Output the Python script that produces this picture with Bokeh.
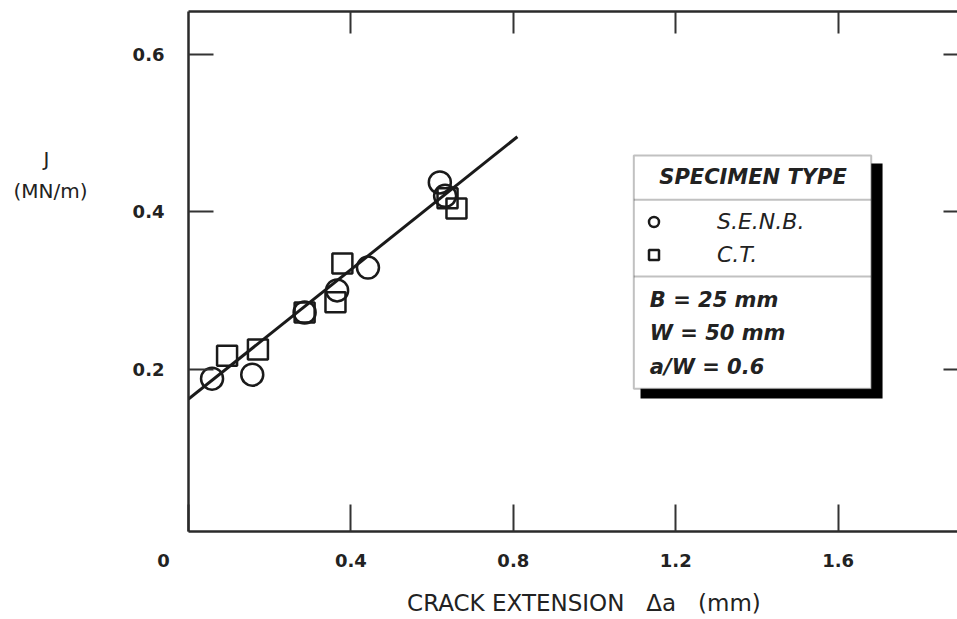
from bokeh.plotting import figure
from bokeh.models import (Range1d, LinearAxis, FixedTicker, Label, BoxAnnotation,
                          Legend, LegendItem)
from bokeh.embed import file_html
from bokeh.resources import INLINE

# ---- data ----
senb_x = [0.058, 0.157, 0.286, 0.366, 0.442, 0.619, 0.632]
senb_y = [0.188, 0.193, 0.272, 0.300, 0.329, 0.437, 0.420]
ct_x = [0.095, 0.171, 0.286, 0.362, 0.379, 0.638, 0.660]
ct_y = [0.217, 0.225, 0.272, 0.285, 0.334, 0.417, 0.404]
fit_x = [0.0, 0.81]
fit_y = [0.162, 0.495]
x_ticks = [0.0, 0.4, 0.8, 1.2, 1.6]
y_ticks = [0.2, 0.4, 0.6]
y_title_pos = [0.4674, 0.4268]

INK = "#1a1a1a"
FONT = "DejaVu Sans"
NB = "\u00a0"

p = figure(width=957, height=619, output_backend="svg", toolbar_location=None,
           x_range=Range1d(0.0, 1.894), y_range=Range1d(-0.006, 0.654),
           min_border_left=188, min_border_right=0, min_border_top=11,
           min_border_bottom=88, x_axis_location=None, y_axis_location=None)
p.grid.visible = False
p.outline_line_color = None
p.background_fill_color = "white"
p.border_fill_color = "white"


def make_axis(ticks, tick_len, labels, standoff=0, line=True):
    ax = LinearAxis(ticker=FixedTicker(ticks=ticks))
    ax.major_tick_in = tick_len
    ax.major_tick_out = 0
    ax.minor_tick_line_color = None
    ax.major_tick_line_width = 2
    ax.major_tick_line_color = "#333"
    ax.axis_line_width = 2.5
    ax.axis_line_color = "#2a2a2a" if line else None
    ax.major_label_standoff = standoff
    if labels:
        ax.major_label_text_font = FONT
        ax.major_label_text_font_size = "18px"
        ax.major_label_text_font_style = "bold"
        ax.major_label_text_color = "#222"
    else:
        ax.major_label_text_font_size = "1px"
        ax.major_label_text_color = None
    return ax


bottom = make_axis(x_ticks, 27, True, 18)
bottom.major_label_overrides = {0.0: "0" + NB * 8}
bottom.axis_label = NB * 3 + "CRACK EXTENSION" + NB * 3 + "\u0394a" + NB * 3 + "(mm)"
bottom.axis_label_text_font = FONT
bottom.axis_label_text_font_size = "23px"
bottom.axis_label_text_font_style = "normal"
bottom.axis_label_text_color = "#222"
bottom.axis_label_standoff = 16
p.add_layout(bottom, "below")
p.add_layout(make_axis(x_ticks[1:], 22, False), "above")
p.add_layout(make_axis(y_ticks, 25, True, 24), "left")
p.add_layout(make_axis(y_ticks, 14, False, line=False), "right")

# the J (MN/m) title, written as labels of a tick-less axis outside the first
ytitle = LinearAxis(ticker=FixedTicker(ticks=y_title_pos))
ytitle.axis_line_color = None
ytitle.major_tick_line_color = None
ytitle.minor_tick_line_color = None
ytitle.major_tick_in = 0
ytitle.major_tick_out = 0
ytitle.major_label_standoff = 42
ytitle.major_label_overrides = {y_title_pos[0]: "J" + NB * 6, y_title_pos[1]: "(MN/m)"}
ytitle.major_label_text_font = FONT
ytitle.major_label_text_font_size = "20px"
ytitle.major_label_text_color = "#222"
p.add_layout(ytitle, "left")

# regression line and data
p.line(fit_x, fit_y, line_color=INK, line_width=3)
c_r = p.scatter(senb_x, senb_y, marker="circle", size=22, fill_color=None,
                line_color=INK, line_width=2.5)
s_r = p.scatter(ct_x, ct_y, marker="square", size=20, fill_color=None,
                line_color=INK, line_width=2.5)

# legend box with drop shadow
p.add_layout(BoxAnnotation(left=1.1133, right=1.7094, top=0.4611, bottom=0.1628,
                           fill_color="black", fill_alpha=1, line_color=None))
p.add_layout(BoxAnnotation(left=1.0968, right=1.6815, top=0.4712, bottom=0.1751,
                           fill_color="white", fill_alpha=1, line_color="#333",
                           line_width=2))
for yy in (0.4150, 0.3176):
    p.add_layout(BoxAnnotation(left=1.0968, right=1.6815, top=yy, bottom=yy,
                               fill_alpha=0, line_color="#333", line_width=2))

legend = Legend(items=[LegendItem(label="S.E.N.B.", renderers=[c_r]),
                       LegendItem(label="C.T.", renderers=[s_r])],
                location=(453, 264), glyph_width=25, glyph_height=25,
                label_height=25, label_standoff=51, spacing=8, padding=0,
                margin=0, border_line_color=None, background_fill_alpha=0,
                label_text_font=FONT, label_text_font_style="italic",
                label_text_font_size="22px", label_text_color="#222")
p.add_layout(legend)


def lab(x, y, text, size="21px", style="bold italic", align="left"):
    p.add_layout(Label(x=x, y=y, text=text, text_font=FONT, text_font_size=size,
                       text_font_style=style, text_align=align,
                       text_baseline="middle", text_color="#222"))


lab(1.3904, 0.4434, "SPECIMEN TYPE", size="21px", align="center")
lab(1.1362, 0.2881, "B = 25 mm")
lab(1.1362, 0.2457, "W = 50 mm")
lab(1.1362, 0.2025, "a/W = 0.6")

open("out.html", "w").write(file_html(p, INLINE))
